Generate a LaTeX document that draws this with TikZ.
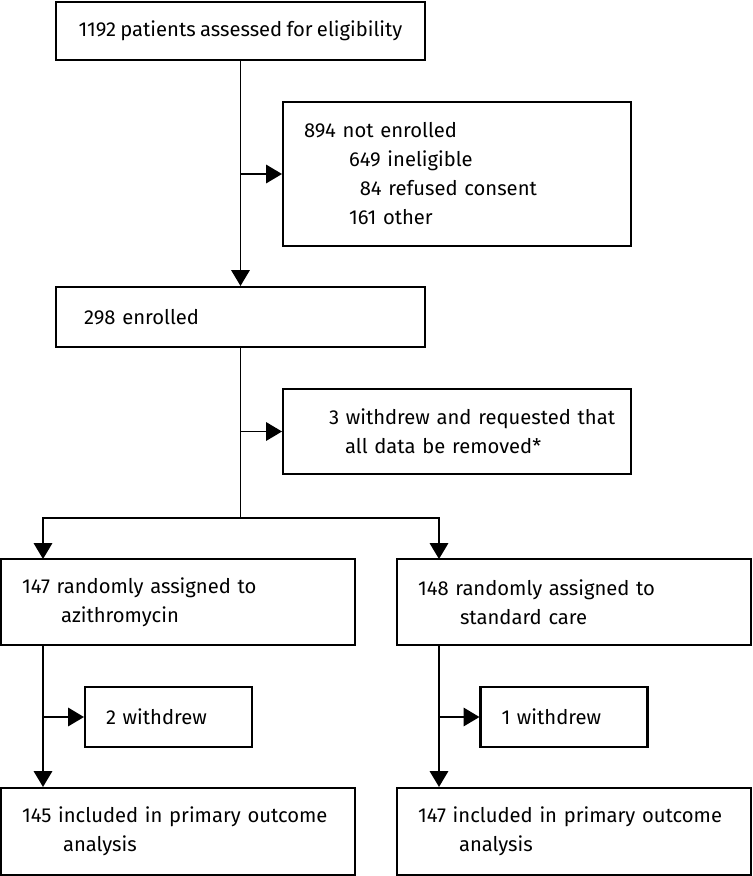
\documentclass[tikz,border=0pt]{standalone}
\usepackage{fontspec}
\setmainfont{Fira Sans}[WordSpace=0.8]
\usetikzlibrary{arrows.meta}

\begin{document}
\begin{tikzpicture}[x=0.02cm,y=-0.02cm,>={Triangle[length=9pt,width=10.5pt]},
  box/.style={draw,line width=1.2pt,align=left,inner xsep=0.42cm,inner ysep=0pt,
    font=\fontsize{11.5}{16.5}\selectfont},
  flow/.style={->,line width=0.9pt}]
\useasboundingbox (0,0) rectangle (752,876);
% boxes
\node[box,align=center,minimum width=7.38cm,minimum height=1.16cm] (screen) at (240.5,31)
  {1192 patients assessed for eligibility};
\node[box,text width=6.12cm,minimum height=2.88cm] (excl) at (457,174)
  {894 not enrolled\\\hspace*{0.9cm}649 ineligible\\\hspace*{0.9cm}\phantom{6}84 refused consent\\\hspace*{0.9cm}161 other};
\node[box,text width=6.54cm,minimum height=1.2cm] (enrol) at (240.5,317)
  {\hspace*{0.14cm}298 enrolled};
\node[box,inner xsep=0.2cm,text width=6.56cm,minimum height=1.7cm] (wd) at (457,431.5)
  {\hspace*{0.72cm}3 withdrew and requested that\\\hspace*{1.04cm}all data be removed*};
\node[box,text width=6.24cm,minimum height=1.72cm] (azi) at (178,602)
  {147 randomly assigned to\\\hspace*{0.78cm}azithromycin};
\node[box,text width=6.24cm,minimum height=1.72cm] (std) at (574,602)
  {148 randomly assigned to\\\hspace*{0.84cm}standard care};
\node[box,text width=2.5cm,minimum height=1.2cm] (wdL) at (168.5,717) {2 withdrew};
\node[box,text width=2.5cm,minimum height=1.2cm] (wdR) at (564,717) {1 withdrew};
\node[box,text width=6.24cm,minimum height=1.74cm] (anaL) at (178,831.5)
  {145 included in primary outcome\\\hspace*{0.82cm}analysis};
\node[box,text width=6.24cm,minimum height=1.74cm] (anaR) at (574,831.5)
  {147 included in primary outcome\\\hspace*{0.82cm}analysis};
% connectors
\coordinate (split) at (240.5,518);
\coordinate (armL) at (43,559);
\coordinate (armR) at (439,559);
\draw[flow] (screen) -- (enrol);
\draw[flow] (screen.south |- excl.west) -- (excl.west);
\draw[line width=0.9pt] (enrol) -- (split);
\draw[flow] (enrol.south |- wd.west) -- (wd.west);
\draw[flow] (split) -| (armL);
\draw[flow] (split) -| (armR);
\draw[flow] (armL |- azi.south) -- (armL |- anaL.north);
\draw[flow] (armL |- wdL.west) -- (wdL.west);
\draw[flow] (armR |- std.south) -- (armR |- anaR.north);
\draw[flow] (armR |- wdR.west) -- (wdR.west);
\end{tikzpicture}
\end{document}
